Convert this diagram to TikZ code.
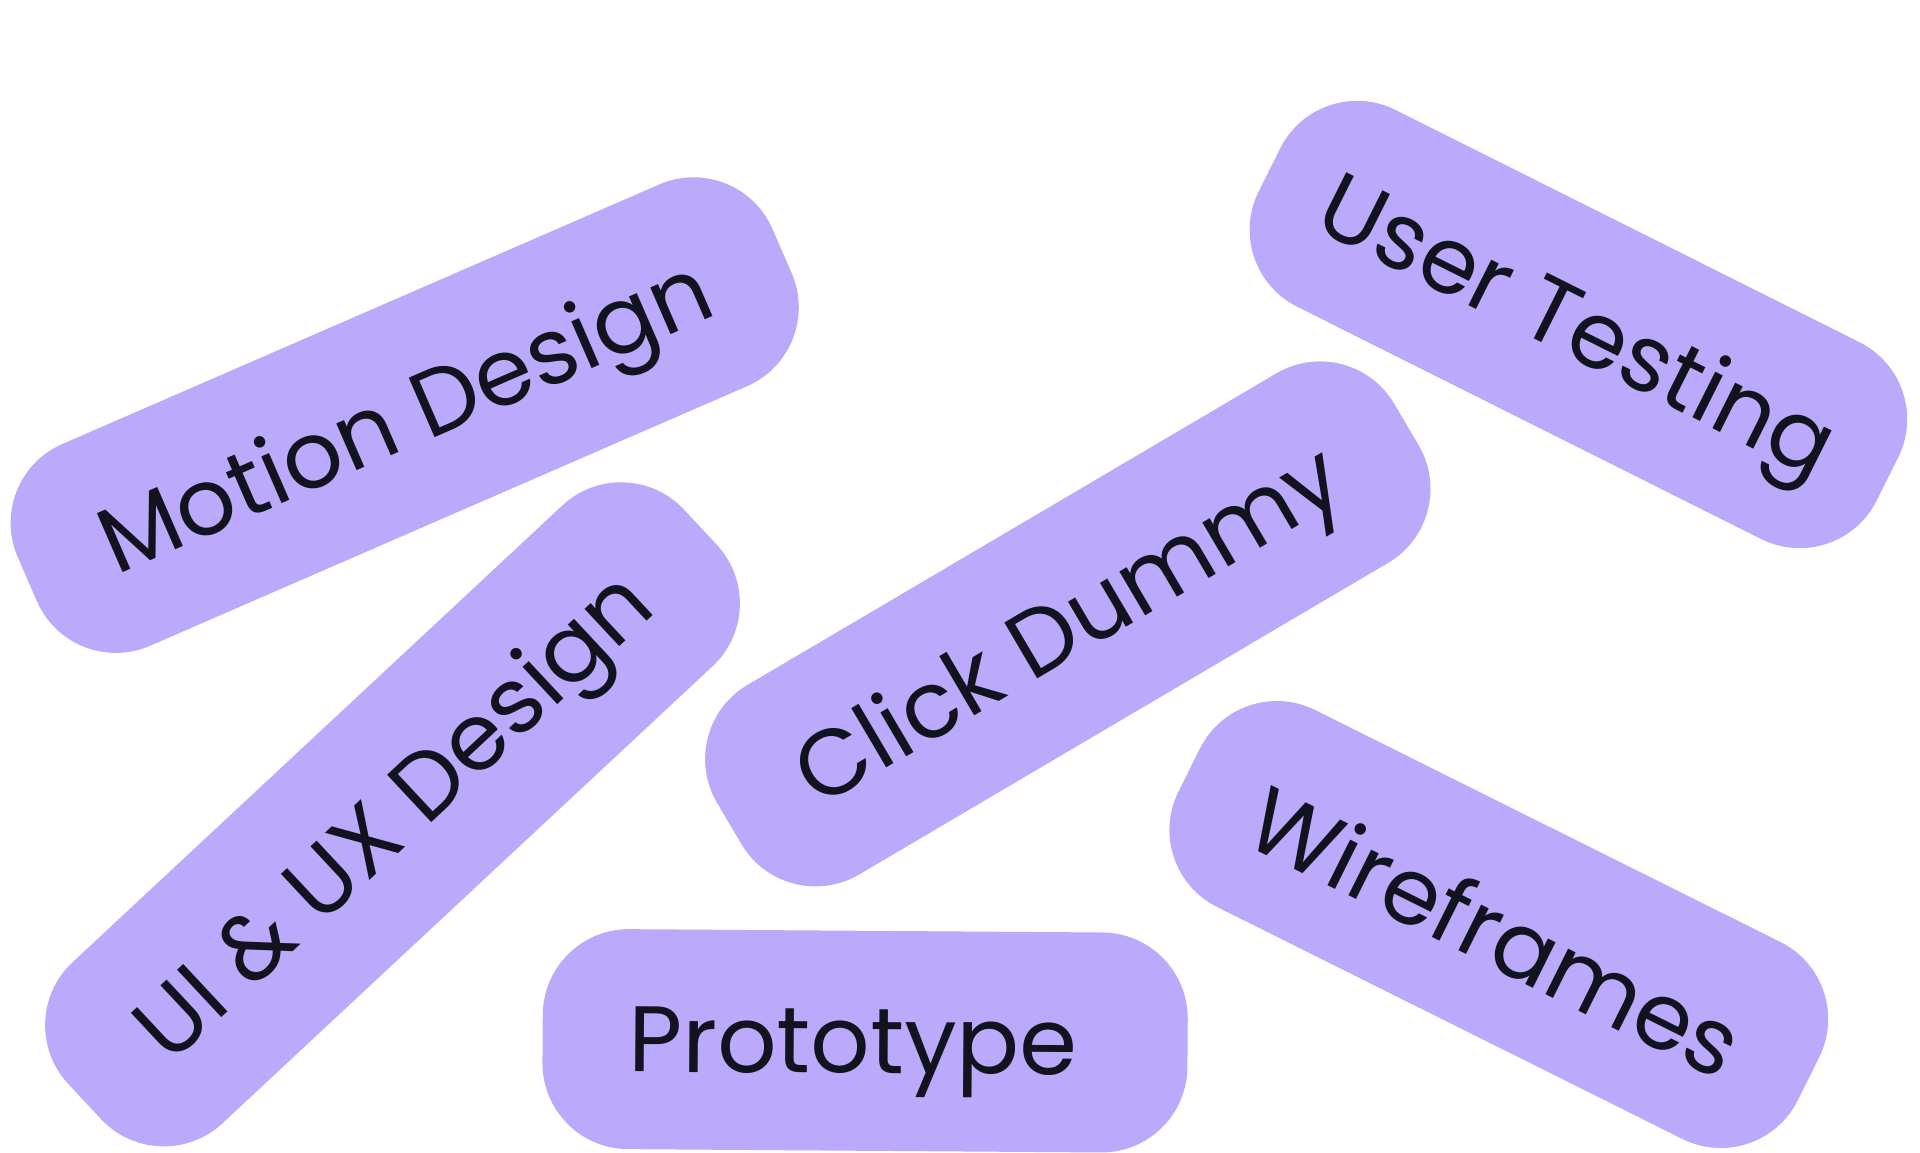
\documentclass[tikz,border=0pt]{standalone}
\usepackage{fontspec}
\setmainfont{Poppins}
\definecolor{pillfill}{HTML}{BBAAFC}
\definecolor{pilltext}{HTML}{12131F}
\begin{document}
\begin{tikzpicture}[x=1pt,y=-1pt,
  pill/.style={fill=pillfill, rounded corners=86pt, minimum height=220pt,
    inner sep=0pt, text=pilltext, font=\fontsize{93}{93}\selectfont,
    text height=65pt, text depth=0pt, anchor=center}]
\useasboundingbox (0,0) rectangle (1920,1152);
\fill[white] (0,0) rectangle (1920,1152);
\node[pill, minimum width=823pt, rotate=23.5] (motion) at (404.7,415.1) {Motion Design};
\node[pill, minimum width=691pt, rotate=-26.6] (user) at (1578.4,324.5) {User Testing};
\node[pill, minimum width=842pt, rotate=43] (uiux) at (392.5,814.3) {UI \& UX Design};
\node[pill, minimum width=786pt, rotate=30.5] (click) at (1067.8,623.9) {Click Dummy};
\node[pill, minimum width=692pt, rotate=-26.5, text height=83pt] (wire) at (1498.8,924.5) {Wireframes};
\node[pill, minimum width=645pt, rotate=-0.4] (proto) at (865.1,1040.8) {Prototype\kern24pt};
\end{tikzpicture}
\end{document}
